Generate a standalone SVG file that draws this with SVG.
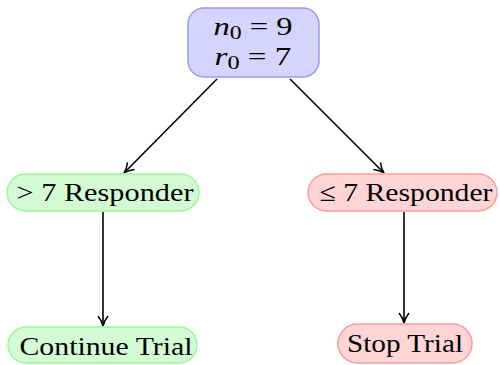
<svg xmlns="http://www.w3.org/2000/svg" width="500" height="365" viewBox="0 0 500 365">
<style>
text{font-family:'Liberation Serif','Times New Roman',serif;font-size:26px;fill:#000;text-anchor:middle}
.blue{fill:#d4d4fc;stroke:#9a9af7;stroke-width:1.5}
.green{fill:#d4fcd4;stroke:#9cf59c;stroke-width:1.5}
.red{fill:#ffd5d5;stroke:#fb9c9c;stroke-width:1.5}
.edge{stroke:#000;stroke-width:1.6;fill:none;marker-end:url(#arr)}
</style>
<defs>
<marker id="arr" viewBox="0 0 12 12" refX="11" refY="6" markerWidth="12" markerHeight="12" markerUnits="userSpaceOnUse" orient="auto">
<path d="M1,1 Q6,5 11,6 Q6,7 1,11" fill="none" stroke="#000" stroke-width="1.5"/>
</marker>
</defs>
<g id="connectors">
<line class="edge" x1="217" y1="79" x2="124" y2="173"/>
<line class="edge" x1="290" y1="79" x2="384" y2="173"/>
<line class="edge" x1="103" y1="212" x2="103" y2="326"/>
<line class="edge" x1="404" y1="212" x2="404" y2="323"/>
</g>
<g id="root">
<rect class="blue" x="188" y="8" width="131" height="69" rx="16"/>
<text x="253" y="35" font-size="27" textLength="79" lengthAdjust="spacingAndGlyphs"><tspan font-style="italic">n</tspan><tspan font-size="19" dy="4">0</tspan><tspan dy="-4"> = 9</tspan></text>
<text x="253" y="65" font-size="27" textLength="77" lengthAdjust="spacingAndGlyphs"><tspan font-style="italic">r</tspan><tspan font-size="19" dy="4">0</tspan><tspan dy="-4"> = 7</tspan></text>
</g>
<g id="gt7">
<rect class="green" x="7" y="174" width="192" height="37" rx="18.5"/>
<text x="105" y="201" textLength="177" lengthAdjust="spacingAndGlyphs">&gt; 7 Responder</text>
</g>
<g id="le7">
<rect class="red" x="308" y="174" width="189" height="37" rx="18.5"/>
<text x="406" y="201" textLength="173" lengthAdjust="spacingAndGlyphs">≤ 7 Responder</text>
</g>
<g id="continue">
<rect class="green" x="8" y="327" width="189" height="36" rx="18"/>
<text x="106" y="355" textLength="173" lengthAdjust="spacingAndGlyphs">Continue Trial</text>
</g>
<g id="stop">
<rect class="red" x="338" y="324" width="134" height="39" rx="19.5"/>
<text x="405" y="352" textLength="116" lengthAdjust="spacingAndGlyphs">Stop Trial</text>
</g>
</svg>
